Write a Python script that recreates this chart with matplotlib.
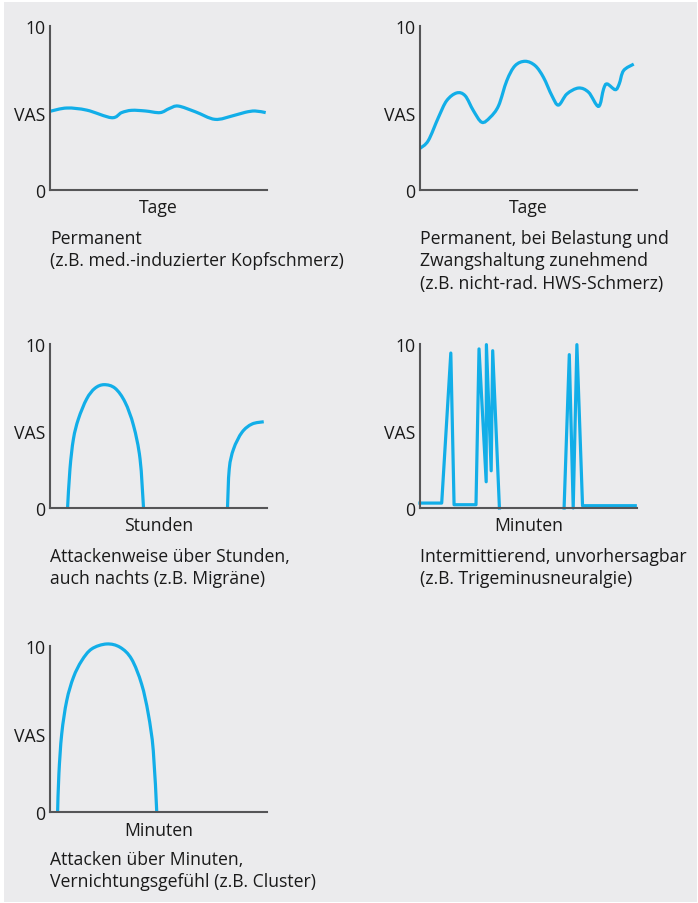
import numpy as np
import matplotlib.pyplot as plt
from matplotlib.patches import Rectangle, PathPatch
from matplotlib.path import Path

plt.rcParams['font.family'] = ['Open Sans', 'DejaVu Sans']

# Curves (x: 0..100 along the time axis, y: VAS 0..10)
perm_x = [0, 7.7, 17, 28.4, 33, 37.6, 44, 50.7, 55, 59.1, 67, 76, 84.3, 90, 94.5, 99.4]
perm_y = [4.78, 4.98, 4.85, 4.39, 4.70, 4.84, 4.80, 4.70, 4.95, 5.10, 4.75, 4.29, 4.51, 4.72, 4.80, 4.70]

hws_x = [0, 3.8, 8.5, 12.3, 16.9, 20.8, 24.6, 28.5, 32.3, 36.2, 40.0, 43.8, 48.5, 53.1,
         56.9, 60.8, 63.8, 67.7, 73.1, 77.7, 82.3, 84.6, 86.2, 90.0, 91.8, 93.8, 98.5]
hws_y = [2.52, 2.99, 4.41, 5.43, 5.90, 5.73, 4.82, 4.11, 4.41, 5.12, 6.65, 7.56, 7.83, 7.56,
         6.85, 5.73, 5.16, 5.84, 6.20, 5.94, 5.08, 6.14, 6.45, 6.10, 6.45, 7.26, 7.66]

mig_x = [8.1, 9.2, 10.8, 13.1, 16.9, 20.7, 25.0, 30.0, 34.6, 38.5, 41.5, 43.1, np.nan,
         81.8, 82.6, 84.6, 88.5, 93.1, 98.5]
mig_y = [0, 2.38, 4.21, 5.43, 6.65, 7.30, 7.52, 7.30, 6.45, 5.02, 2.99, 0, np.nan,
         0, 2.38, 3.6, 4.62, 5.12, 5.26]

trig_x = [0, 10, 14.2, 15.7, 25.8, 27.2, 30.5, 30.6, 32.8, 33.5, 36.6, np.nan,
          66.4, 68.8, 70.6, 72.3, 74.9, 99.2]
trig_y = [0.30, 0.30, 9.45, 0.2, 0.2, 9.70, 1.60, 9.96, 2.27, 9.59, 0, np.nan,
          0, 9.35, 0, 9.96, 0.14, 0.14]

clus_x = [3.5, 4.1, 5.4, 7.7, 10.8, 14.6, 19.2, 26.1, 32.3, 37.6, 42.2, 45.3, 47.6, 49.2]
clus_y = [0, 2.31, 4.72, 6.72, 8.13, 9.13, 9.84, 10.14, 9.94, 9.23, 7.73, 5.92, 3.71, 0]

xlabels = ['Tage', 'Tage', 'Stunden', 'Minuten', 'Minuten']
captions = [
    ['Permanent', '(z.B. med.-induzierter Kopfschmerz)'],
    ['Permanent, bei Belastung und', 'Zwangshaltung zunehmend', '(z.B. nicht-rad. HWS-Schmerz)'],
    ['Attackenweise über Stunden,', 'auch nachts (z.B. Migräne)'],
    ['Intermittierend, unvorhersagbar', '(z.B. Trigeminusneuralgie)'],
    ['Attacken über Minuten,', 'Vernichtungsgefühl (z.B. Cluster)'],
]
ytick_labels = ['0', 'VAS', '10']
ytick_pos = [0, 4.7, 10]

curves = [(perm_x, perm_y), (hws_x, hws_y), (mig_x, mig_y), (trig_x, trig_y), (clus_x, clus_y)]
smooth = [True, True, True, False, True]


def smooth_path(x, y):
    # Catmull-Rom through the read points, drawn as cubic Bezier segments
    x = np.asarray(x, float)
    y = np.asarray(y, float)
    verts, codes = [], []
    breaks = np.where(np.isnan(x))[0]
    for seg in np.split(np.column_stack([x, y]), breaks):
        seg = seg[~np.isnan(seg[:, 0])]
        if len(seg) < 2:
            continue
        ext = np.vstack([seg[0], seg, seg[-1]])
        verts.append(seg[0])
        codes.append(Path.MOVETO)
        for k in range(1, len(ext) - 2):
            p0, p1, p2, p3 = ext[k - 1], ext[k], ext[k + 1], ext[k + 2]
            verts += [p1 + (p2 - p0) / 6, p2 - (p3 - p1) / 6, p2]
            codes += [Path.CURVE4] * 3
    return Path(verts, codes)


W, H = 698, 904
fig = plt.figure(figsize=(W / 100, H / 100), dpi=100, facecolor='white')
fig.patches.append(Rectangle((4 / W, 1 / H), 693 / W, 900 / H, transform=fig.transFigure,
                             facecolor='#ebebed', edgecolor='none', zorder=-10))

# axes boxes in pixels: left, top, right, bottom
boxes = [(50, 26.7, 267, 190.7), (420, 26.7, 637, 190.7),
         (50, 345, 267, 509), (420, 345, 637, 509),
         (50, 647.3, 267, 813.3)]
caption_pos = [(50, 239), (420, 239), (50, 557), (420, 557), (50, 860)]

blue = '#12aee8'
axis_col = '#555557'
txt = '#1a1a1a'
fs = 12.7

for i, (l, t, r, b) in enumerate(boxes):
    ax = fig.add_axes([l / W, 1 - b / H, (r - l) / W, (b - t) / H])
    ax.set_facecolor('none')
    x, y = curves[i]
    if smooth[i]:
        ax.add_patch(PathPatch(smooth_path(x, y), facecolor='none', edgecolor=blue,
                               lw=2.3, clip_on=False, capstyle='butt'))
    else:
        ax.plot(x, y, color=blue, lw=2.3, clip_on=False)
    ax.set_xlim(0, 100)
    ax.set_ylim(0, 10)
    for s in ['top', 'right']:
        ax.spines[s].set_visible(False)
    for s in ['left', 'bottom']:
        ax.spines[s].set_color(axis_col)
        ax.spines[s].set_linewidth(1.5)
    ax.set_xticks([])
    ax.set_yticks(ytick_pos)
    ax.set_yticklabels(ytick_labels)
    ax.tick_params(axis='y', length=0, pad=3.5, labelsize=fs, colors=txt)
    ax.set_xlabel(xlabels[i], fontsize=fs, color=txt, labelpad=6)

    cx, cy = caption_pos[i]
    for j, line in enumerate(captions[i]):
        fig.text(cx / W, 1 - (cy + 22.5 * j) / H, line, fontsize=fs, color=txt,
                 ha='left', va='center')

fig.savefig('out.png', dpi=100, facecolor=fig.get_facecolor())
